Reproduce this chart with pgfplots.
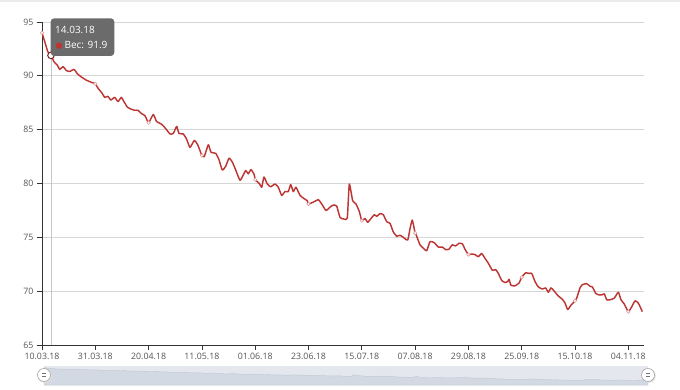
\documentclass[border=0pt]{standalone}
\usepackage{fontspec}
\setmainfont{Open Sans}
\usepackage{pgfplots}
\usepackage{pgfplotstable}
\pgfplotsset{compat=1.18}
\definecolor{lineRed}{HTML}{BD3533}
\definecolor{axisGray}{HTML}{333333}
\definecolor{labelGray}{HTML}{555555}
\definecolor{gridGray}{HTML}{D6D6D6}
\definecolor{tipGray}{HTML}{6B6B6B}
\definecolor{sliderBg}{HTML}{E4E8EE}
\definecolor{sliderData}{HTML}{D3D9E3}
\definecolor{sliderLine}{HTML}{C3CAD6}

\pgfplotstableread{
x y
0 94.0
3.3 93.0
6 92.2
9 91.9
12 91.3
15.3 91.0
17.7 90.6
21 90.85
24.3 90.5
27.7 90.4
32 90.6
35.3 90.2
39.3 89.9
44.3 89.6
49.3 89.4
53.3 89.25
56 88.85
60 88.4
62.7 88.0
66 88.1
68.7 87.75
72.7 88.0
76 87.6
79.3 88.0
82 87.6
85.3 87.1
89.3 86.9
92.7 86.8
96 86.8
99.3 86.5
103 86.3
106.6 85.65
111.3 86.4
114.7 85.75
119.7 85.5
123.7 85.1
128 84.6
131.3 84.65
134.7 85.3
137 84.65
141.3 84.6
144.7 84.1
148 83.35
152.3 84.0
155.7 83.6
159.9 82.6
162.3 82.5
166.3 83.6
169 82.9
173.7 82.8
177 82.2
180.3 81.25
183.7 81.6
187 82.35
190.3 82.0
193.7 81.25
198 80.3
201.3 80.8
203.7 81.2
206.3 80.9
209 81.3
212.3 80.8
213.2 80.35
217.3 80.0
219.7 79.65
222 80.6
225.3 79.95
228.7 79.7
233 79.95
236.3 79.65
239.7 78.9
243 79.25
246.3 79.25
248.7 79.9
251.3 79.25
254 79.65
258 78.9
262 78.6
265.3 78.4
266.5 78.1
272 78.3
276.3 78.5
279.7 78.1
284 77.5
288 77.8
291.3 78.0
294.7 77.9
298 76.85
302 76.7
305.3 76.8
307.3 79.95
310.7 78.4
314 78.1
317.3 77.4
319.8 76.55
323 76.75
325.7 76.4
329 76.75
332.3 77.1
334.7 76.95
338 77.2
341.3 77.1
344.7 76.45
348 76.3
351.3 75.5
354.7 75.1
358 75.2
361.3 75.0
365.7 74.75
368 75.8
370.3 76.6
373.1 75.4
374.7 75.1
378 74.3
381.3 74.0
384.7 73.75
388 74.6
392.3 74.5
396.3 74.1
400.3 74.1
403.7 73.85
407 73.9
410.3 74.3
413.7 74.2
417 74.45
420.3 74.4
423 73.9
426.4 73.4
429.7 73.45
433 73.4
436.3 73.2
439.7 73.5
443 73.05
446.3 72.6
450.3 71.95
453.7 72.0
456.3 71.65
459.7 71.0
463 70.8
465.7 70.9
467 71.1
469 70.55
473 70.5
477 70.75
479.7 71.3
483.7 71.7
487 71.65
489.7 71.65
493 70.9
496.3 70.4
500.3 70.2
503.7 70.3
506.3 69.9
509 70.3
512.3 70.0
516.3 69.55
520.3 69.25
523 68.9
525.7 68.3
529 68.7
533 69.1
534.7 69.35
538 70.3
540.3 70.6
544.7 70.7
548 70.45
550.3 70.4
553.7 69.8
557 69.65
559.7 69.65
562.3 69.75
564.7 69.2
568 69.2
572.3 69.35
576.3 69.9
579 69.2
582.3 68.8
586.3 68.1
589.7 68.55
593 69.1
596.3 68.9
600.3 68.1
}\weight

\begin{document}
\begin{tikzpicture}[x=1pt,y=1pt]
\path[use as bounding box, fill=white] (0,0) rectangle (680,389);
\draw[color=black!8, line width=2.5pt] (0,388.5) -- (680,388.5);
\begin{axis}[
  at={(42pt,44pt)}, anchor=south west,
  scale only axis, width=602.3pt, height=323pt,
  xmin=0, xmax=602.3, ymin=65, ymax=95,
  axis x line*=bottom, axis y line*=left,
  axis line style={axisGray, line width=0.8pt},
  tick style={axisGray, line width=0.8pt},
  tick align=outside, major tick length=5pt,
  xtick={0,53.3,106.6,159.9,213.2,266.5,319.8,373.1,426.4,479.7,533,586.3},
  xticklabels={10.03.18,31.03.18,20.04.18,11.05.18,01.06.18,23.06.18,15.07.18,07.08.18,29.08.18,25.09.18,15.10.18,04.11.18},
  ytick={65,70,...,95},
  ymajorgrids, grid style={gridGray, line width=0.7pt},
  ticklabel style={font=\fontsize{8.8}{10}\selectfont, text=labelGray},
  /pgf/number format/assume math mode=true,
]
\draw[black!22, line width=0.8pt] (axis cs:9,65) -- (axis cs:9,95);
\addplot[lineRed, line width=1.45pt, line join=round, smooth, tension=0.3, mark=none] table {\weight};
\addplot[only marks, mark=*, mark size=1.7pt, mark options={draw=lineRed!50, fill=white, line width=0.6pt}]
  coordinates {(0,94.0) (53.3,89.25) (106.6,85.65) (159.9,82.6) (213.2,80.35) (266.5,78.1) (319.8,76.55) (373.1,75.4) (426.4,73.4) (479.7,71.3) (533,69.1) (586.3,68.1)};
\addplot[only marks, mark=*, mark size=3.3pt, mark options={draw=lineRed!60!black, fill=white, line width=1pt}]
  coordinates {(9,91.9)};
\end{axis}
% tooltip
\fill[tipGray, rounded corners=3.5pt] (50.7,333) rectangle (114.3,370.7);
\node[anchor=base west, text=white, font=\fontsize{10}{12}\selectfont, inner sep=0] at (55,355.7) {14.03.18};
\node[anchor=base west, text=white, font=\fontsize{10}{12}\selectfont, inner sep=0] at (55.5,340)
  {\tikz[baseline=-0.6ex]\fill[lineRed] (0,0) circle (3.2pt);\hspace{2.5pt}Вес: 91.9};
% slider
\begin{axis}[
  at={(44pt,4pt)}, anchor=south west,
  scale only axis, width=604pt, height=19pt,
  xmin=0, xmax=600.3, ymin=60, ymax=97,
  hide axis,
]
\fill[sliderBg] (rel axis cs:0,0) rectangle (rel axis cs:1,1);
\addplot[fill=sliderData, draw=sliderLine, line width=0.5pt, mark=none] table {\weight} \closedcycle;
\end{axis}
\foreach \hx in {44,648} {
  \fill[black!12] (\hx+0.8,13.2) circle (7);
  \draw[black!35, fill=white, line width=0.6pt] (\hx,14) circle (6.5);
  \draw[black!55, line width=0.6pt] (\hx-2,15.4) -- (\hx+2,15.4) (\hx-2,12.6) -- (\hx+2,12.6);
}
\end{tikzpicture}
\end{document}
